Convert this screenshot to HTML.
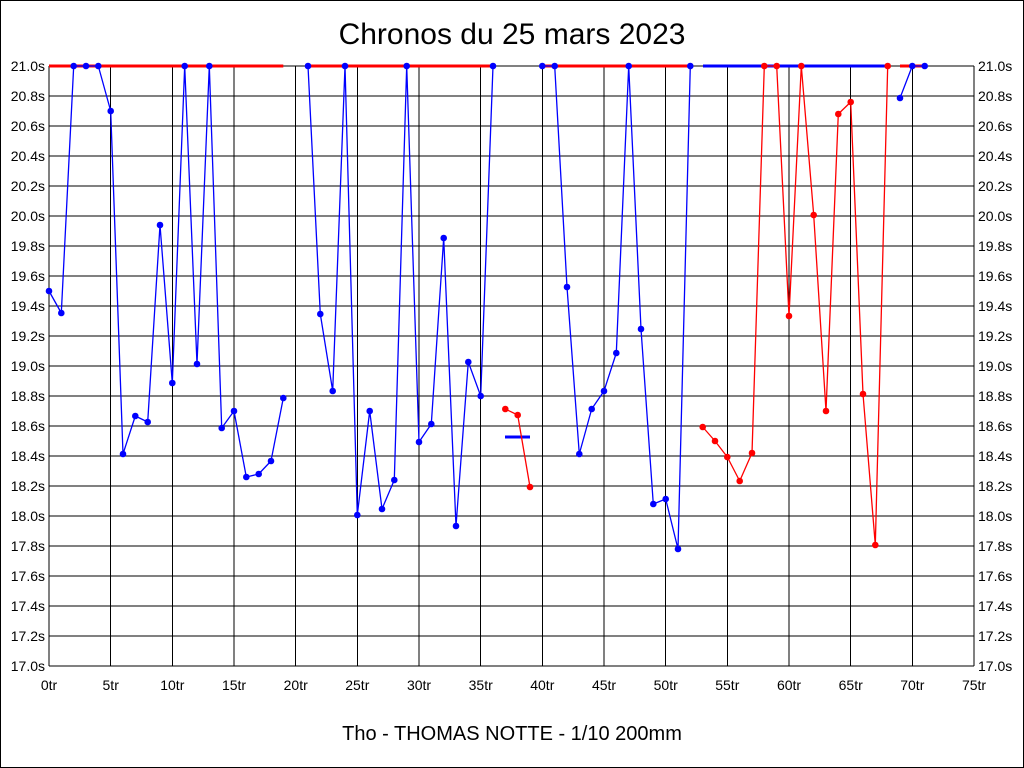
<!DOCTYPE html>
<html><head><meta charset="utf-8"><style>
html,body{margin:0;padding:0;background:#fff}
svg{display:block}
text{font-family:"Liberation Sans",Arial,sans-serif}
</style></head><body>
<svg width="1024" height="768" viewBox="0 0 1024 768" xmlns="http://www.w3.org/2000/svg">
<rect x="0.5" y="0.5" width="1023" height="767" fill="#fff" stroke="#000"/>
<text x="512" y="44" font-size="30" text-anchor="middle">Chronos du 25 mars 2023</text>
<text x="512" y="740" font-size="20" text-anchor="middle">Tho - THOMAS NOTTE - 1/10 200mm</text>
<g stroke="#000" stroke-width="1" shape-rendering="crispEdges">
<path d="M49 66H974M49 96H974M49 126H974M49 156H974M49 186H974M49 216H974M49 246H974M49 276H974M49 306H974M49 336H974M49 366H974M49 396H974M49 426H974M49 456H974M49 486H974M49 516H974M49 546H974M49 576H974M49 606H974M49 636H974M49 666H974"/>
<path d="M49 66V666M110.7 66V666M172.3 66V666M234 66V666M295.7 66V666M357.3 66V666M419 66V666M480.7 66V666M542.3 66V666M604 66V666M665.7 66V666M727.3 66V666M789 66V666M850.7 66V666M912.3 66V666M974 66V666"/>
</g>
<g font-size="14" text-anchor="end">
<text x="45" y="71">21.0s</text><text x="45" y="101">20.8s</text><text x="45" y="131">20.6s</text><text x="45" y="161">20.4s</text><text x="45" y="191">20.2s</text><text x="45" y="221">20.0s</text><text x="45" y="251">19.8s</text><text x="45" y="281">19.6s</text><text x="45" y="311">19.4s</text><text x="45" y="341">19.2s</text><text x="45" y="371">19.0s</text><text x="45" y="401">18.8s</text><text x="45" y="431">18.6s</text><text x="45" y="461">18.4s</text><text x="45" y="491">18.2s</text><text x="45" y="521">18.0s</text><text x="45" y="551">17.8s</text><text x="45" y="581">17.6s</text><text x="45" y="611">17.4s</text><text x="45" y="641">17.2s</text><text x="45" y="671">17.0s</text>
</g>
<g font-size="14">
<text x="978" y="71">21.0s</text><text x="978" y="101">20.8s</text><text x="978" y="131">20.6s</text><text x="978" y="161">20.4s</text><text x="978" y="191">20.2s</text><text x="978" y="221">20.0s</text><text x="978" y="251">19.8s</text><text x="978" y="281">19.6s</text><text x="978" y="311">19.4s</text><text x="978" y="341">19.2s</text><text x="978" y="371">19.0s</text><text x="978" y="401">18.8s</text><text x="978" y="431">18.6s</text><text x="978" y="461">18.4s</text><text x="978" y="491">18.2s</text><text x="978" y="521">18.0s</text><text x="978" y="551">17.8s</text><text x="978" y="581">17.6s</text><text x="978" y="611">17.4s</text><text x="978" y="641">17.2s</text><text x="978" y="671">17.0s</text>
</g>
<g font-size="14" text-anchor="middle">
<text x="49" y="690">0tr</text><text x="110.7" y="690">5tr</text><text x="172.3" y="690">10tr</text><text x="234" y="690">15tr</text><text x="295.7" y="690">20tr</text><text x="357.3" y="690">25tr</text><text x="419" y="690">30tr</text><text x="480.7" y="690">35tr</text><text x="542.3" y="690">40tr</text><text x="604" y="690">45tr</text><text x="665.7" y="690">50tr</text><text x="727.3" y="690">55tr</text><text x="789" y="690">60tr</text><text x="850.7" y="690">65tr</text><text x="912.3" y="690">70tr</text><text x="974" y="690">75tr</text>
</g>
<g stroke-width="3" fill="none">
<path d="M49 66H283.3M307 66H493M540 66H690.3M900 66H925" stroke="#f00"/>
<path d="M703 66H887.7" stroke="#00f"/>
<path d="M505 437H530" stroke="#00f"/>
</g>
<g fill="none" stroke-width="1.3" stroke-linejoin="round">
<polyline stroke="#00f" points="49,291 61.3,313 73.7,66 86,66 98.3,66 110.7,111 123,454 135.3,416 147.7,422 160,225 172.3,383 184.7,66 197,364 209.3,66 221.7,428 234,411 246.3,477 258.7,474 271,461 283.3,398"/>
<polyline stroke="#00f" points="308,66 320.3,314 332.7,391 345,66 357.3,515 369.7,411 382,509 394.3,480 406.7,66 419,442 431.3,424 443.7,238 456,526 468.3,362 480.7,396 493,66"/>
<polyline stroke="#f00" points="505.3,409 517.7,415 530,487"/>
<polyline stroke="#00f" points="542.3,66 554.7,66 567,287 579.3,454 591.7,409 604,391 616.3,353 628.7,66 641,329 653.3,504 665.7,499 678,549 690.3,66"/>
<polyline stroke="#f00" points="702.7,427 715,441 727.3,457 739.7,481 752,453 764.3,66 776.7,66 789,316 801.3,66 813.7,215 826,411 838.3,114 850.7,102 863,394 875.3,545 887.7,66"/>
<polyline stroke="#00f" points="900,98 912.3,66 924.7,66"/>
</g>
<g fill="#00f">
<circle cx="49" cy="291" r="3.3"/><circle cx="61.3" cy="313" r="3.3"/><circle cx="73.7" cy="66" r="3.3"/><circle cx="86" cy="66" r="3.3"/><circle cx="98.3" cy="66" r="3.3"/><circle cx="110.7" cy="111" r="3.3"/><circle cx="123" cy="454" r="3.3"/><circle cx="135.3" cy="416" r="3.3"/><circle cx="147.7" cy="422" r="3.3"/><circle cx="160" cy="225" r="3.3"/><circle cx="172.3" cy="383" r="3.3"/><circle cx="184.7" cy="66" r="3.3"/><circle cx="197" cy="364" r="3.3"/><circle cx="209.3" cy="66" r="3.3"/><circle cx="221.7" cy="428" r="3.3"/><circle cx="234" cy="411" r="3.3"/><circle cx="246.3" cy="477" r="3.3"/><circle cx="258.7" cy="474" r="3.3"/><circle cx="271" cy="461" r="3.3"/><circle cx="283.3" cy="398" r="3.3"/>
<circle cx="308" cy="66" r="3.3"/><circle cx="320.3" cy="314" r="3.3"/><circle cx="332.7" cy="391" r="3.3"/><circle cx="345" cy="66" r="3.3"/><circle cx="357.3" cy="515" r="3.3"/><circle cx="369.7" cy="411" r="3.3"/><circle cx="382" cy="509" r="3.3"/><circle cx="394.3" cy="480" r="3.3"/><circle cx="406.7" cy="66" r="3.3"/><circle cx="419" cy="442" r="3.3"/><circle cx="431.3" cy="424" r="3.3"/><circle cx="443.7" cy="238" r="3.3"/><circle cx="456" cy="526" r="3.3"/><circle cx="468.3" cy="362" r="3.3"/><circle cx="480.7" cy="396" r="3.3"/><circle cx="493" cy="66" r="3.3"/>
<circle cx="542.3" cy="66" r="3.3"/><circle cx="554.7" cy="66" r="3.3"/><circle cx="567" cy="287" r="3.3"/><circle cx="579.3" cy="454" r="3.3"/><circle cx="591.7" cy="409" r="3.3"/><circle cx="604" cy="391" r="3.3"/><circle cx="616.3" cy="353" r="3.3"/><circle cx="628.7" cy="66" r="3.3"/><circle cx="641" cy="329" r="3.3"/><circle cx="653.3" cy="504" r="3.3"/><circle cx="665.7" cy="499" r="3.3"/><circle cx="678" cy="549" r="3.3"/><circle cx="690.3" cy="66" r="3.3"/>
<circle cx="900" cy="98" r="3.3"/><circle cx="912.3" cy="66" r="3.3"/><circle cx="924.7" cy="66" r="3.3"/>
</g>
<g fill="#f00">
<circle cx="505.3" cy="409" r="3.3"/><circle cx="517.7" cy="415" r="3.3"/><circle cx="530" cy="487" r="3.3"/>
<circle cx="702.7" cy="427" r="3.3"/><circle cx="715" cy="441" r="3.3"/><circle cx="727.3" cy="457" r="3.3"/><circle cx="739.7" cy="481" r="3.3"/><circle cx="752" cy="453" r="3.3"/><circle cx="764.3" cy="66" r="3.3"/><circle cx="776.7" cy="66" r="3.3"/><circle cx="789" cy="316" r="3.3"/><circle cx="801.3" cy="66" r="3.3"/><circle cx="813.7" cy="215" r="3.3"/><circle cx="826" cy="411" r="3.3"/><circle cx="838.3" cy="114" r="3.3"/><circle cx="850.7" cy="102" r="3.3"/><circle cx="863" cy="394" r="3.3"/><circle cx="875.3" cy="545" r="3.3"/><circle cx="887.7" cy="66" r="3.3"/>
</g>
</svg>
</body></html>
